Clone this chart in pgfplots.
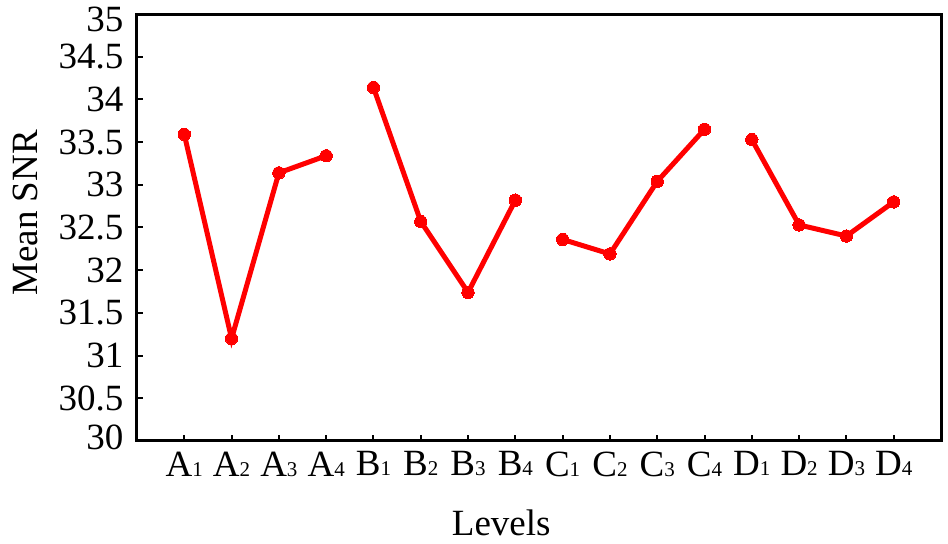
\documentclass[border=0pt]{standalone}
\usepackage{fontspec}
\setmainfont{Liberation Serif}
\usepackage{pgfplots}
\pgfplotsset{compat=1.18}
\newcommand{\lv}[2]{#1{\fontsize{10.5}{11}\selectfont #2}}
\definecolor{sred}{RGB}{255,0,0}
\begin{document}
\fontsize{18.5}{21}\selectfont
\begin{tikzpicture}
\begin{axis}[
  scale only axis,
  width=402pt, height=213.5pt,
  xmin=0, xmax=17, ymin=30, ymax=35,
  xtick={1,...,16},
  xticklabels={\lv{A}{1},\lv{A}{2},\lv{A}{3},\lv{A}{4},\lv{B}{1},\lv{B}{2},\lv{B}{3},\lv{B}{4},\lv{C}{1},\lv{C}{2},\lv{C}{3},\lv{C}{4},\lv{D}{1},\lv{D}{2},\lv{D}{3},\lv{D}{4}},
  ytick={30,30.5,...,35},
  yticklabels={\raisebox{2pt}[\height][\depth]{30},30.5,31,31.5,32,32.5,33,33.5,34,34.5,\raisebox{-2.5pt}[\height][\depth]{35}},
  tick align=inside,
  tick pos=left,
  major tick length=3pt,
  tick style={line width=1pt, black},
  axis line style={line width=1.5pt},
  /pgf/number format/assume math mode=true,
  ticklabel style={font=\fontsize{18.5}{21}\selectfont},
  xticklabel style={yshift=1pt},
  yticklabel style={xshift=-0.5pt},
  xlabel={Levels},
  ylabel={Mean SNR},
  label style={font=\fontsize{18.5}{21}\selectfont},
  xlabel style={at={(rel axis cs:0.453,0)}, anchor=base, yshift=-47.5pt},
  ylabel style={at={(rel axis cs:0,0.534)}, anchor=base, yshift=49.5pt},
  ser/.style={color=sred, line width=2.5pt, mark=*, mark size=3.1pt, mark options={solid, fill=sred, draw=sred, line width=0pt}},
]
\addplot[ser] coordinates {(1,33.59) (2,31.20) (3,33.14) (4,33.34)};
\addplot[ser] coordinates {(5,34.14) (6,32.57) (7,31.74) (8,32.82)};
\addplot[ser] coordinates {(9,32.36) (10,32.19) (11,33.04) (12,33.65)};
\addplot[ser] coordinates {(13,33.53) (14,32.53) (15,32.40) (16,32.80)};
\end{axis}
\pgfresetboundingbox
\path[use as bounding box] ([shift={(-68.5pt,-51.5pt)}]current axis.south west) rectangle ([shift={(3.5pt,7pt)}]current axis.north east);
\end{tikzpicture}
\end{document}
